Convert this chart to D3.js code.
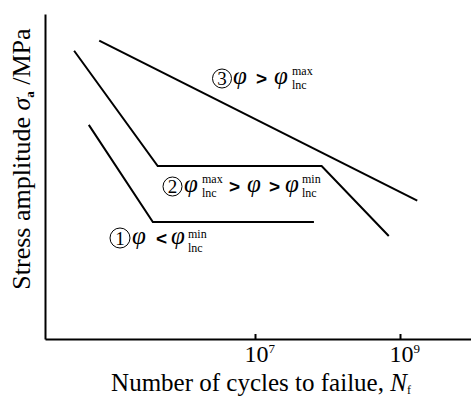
<!DOCTYPE html>
<html><head><meta charset="utf-8">
<script src="https://cdn.jsdelivr.net/npm/d3@7"></script>
<style>body{margin:0;background:#fff}svg{display:block}</style>
</head><body>
<svg id="c" width="471" height="398"></svg>
<script>
// Data (cycles to failure, relative stress amplitude in arbitrary units 0-100)
const line1N = [5.1e4, 3.9e5, 6.5e7];
const line1S = [65.9, 36.0, 36.0];
const line2N = [3.2e4, 4.55e5, 8.3e7, 7.0e8];
const line2S = [88.7, 53.2, 53.2, 31.7];
const line3N = [7.1e4, 1.73e9];
const line3S = [91.8, 42.6];
const xTicks = [1e7, 1e9];
const xTickExp = ["7", "9"];

const svg = d3.select("#c");
const serif = "'Liberation Serif','Times New Roman',serif";

const x0 = d3.scaleLog().domain([1e7, 1e9]).range([255, 400]);
const x = d3.scaleLog().domain([x0.invert(45), x0.invert(471)]).range([45, 471]);
const y = d3.scaleLinear().domain([0, 100]).range([339, 14]);

// axes
const xAxis = d3.axisBottom(x).tickValues(xTicks).tickSizeInner(-5).tickSizeOuter(0).tickFormat("");
const gx = svg.append("g").attr("transform", "translate(0,339)").call(xAxis);
gx.select(".domain").attr("stroke", "#000").attr("stroke-width", 2);
gx.selectAll(".tick line").attr("stroke", "#000").attr("stroke-width", 2);
gx.selectAll(".tick").each(function(d, i) {
  const t = d3.select(this).append("text").attr("fill", "#000")
    .attr("font-family", serif).attr("font-size", 24).attr("text-anchor", "start")
    .attr("x", -11).attr("y", 23);
  t.append("tspan").text("10");
  t.append("tspan").attr("font-size", 13).attr("dy", -9).text(xTickExp[i]);
});

const yAxis = d3.axisLeft(y).tickValues([]).tickSizeOuter(0);
const gy = svg.append("g").attr("transform", "translate(45,0)").call(yAxis);
gy.select(".domain").attr("stroke", "#000").attr("stroke-width", 2);

// lines
const line = d3.line().x(d => x(d[0])).y(d => y(d[1]));
[[line1N, line1S], [line2N, line2S], [line3N, line3S]].forEach(([n, s]) => {
  svg.append("path").datum(n.map((v, i) => [v, s[i]]))
    .attr("d", line).attr("fill", "none").attr("stroke", "#000").attr("stroke-width", 2)
    .attr("stroke-linejoin", "miter");
});

// axis titles
const xt = svg.append("text").attr("x", 261).attr("y", 391).attr("text-anchor", "middle")
  .attr("font-family", serif).attr("font-size", 25).attr("fill", "#000");
xt.append("tspan").text("Number of cycles to failue, ");
xt.append("tspan").attr("font-style", "italic").text("N");
xt.append("tspan").attr("font-size", 12).attr("dy", 3).text("f");

const yt = svg.append("text").attr("transform", "translate(30,159) rotate(-90)")
  .attr("text-anchor", "middle").attr("font-family", serif).attr("font-size", 26).attr("fill", "#000");
yt.append("tspan").text("Stress amplitude ");
yt.append("tspan").attr("font-style", "italic").text("σ");
yt.append("tspan").attr("font-size", 13).attr("font-weight", "bold").attr("dy", 4).text("a");
yt.append("tspan").attr("dy", -4).text(" /MPa");

// annotations
function circled(cx, cy, r, digit) {
  svg.append("circle").attr("cx", cx).attr("cy", cy).attr("r", r)
    .attr("fill", "none").attr("stroke", "#000").attr("stroke-width", 1);
  svg.append("text").attr("x", cx).attr("y", cy + 6.5).attr("text-anchor", "middle")
    .attr("font-family", serif).attr("font-size", 19).text(digit);
}
function phi(px, py) {
  svg.append("text").attr("x", px).attr("y", py).attr("font-family", serif)
    .attr("font-style", "italic").attr("font-size", 25).text("φ");
}
function op(px, py, s) {
  svg.append("text").attr("x", px).attr("y", py).attr("font-family", "'Liberation Sans',Arial,sans-serif")
    .attr("font-weight", "bold").attr("font-size", 19).text(s);
}
function small(px, py, s) {
  svg.append("text").attr("x", px).attr("y", py).attr("font-family", serif)
    .attr("font-size", 12).text(s);
}
// label 3
circled(222, 78.5, 9.5, "3");
phi(233, 84); op(256, 85, ">"); phi(274, 84); small(292, 75, "max"); small(292, 89, "lnc");
// label 2
circled(172.5, 186.5, 9.5, "2");
phi(184, 192); small(202, 183, "max"); small(202, 197, "lnc");
op(229, 193, ">"); phi(247, 192); op(269, 193, ">"); phi(285, 192);
small(302, 183, "min"); small(302, 197, "lnc");
// label 1
circled(120, 238, 10, "1");
phi(132, 244); op(156, 245, "<"); phi(171, 244); small(188, 238, "min"); small(188, 252, "lnc");
</script>
</body></html>
